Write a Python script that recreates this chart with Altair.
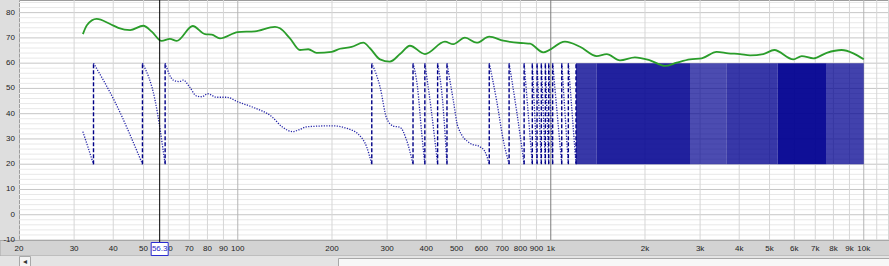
import altair as alt
import pandas as pd

# ---------------- data ----------------
spl_freq = [32, 33.0, 35.4, 39.1, 41.5, 45.3, 49.9, 53.1, 57.1, 60.7, 63.8, 71.8, 78.6, 82.6, 87.7,
            100, 113.5, 131.5, 136.4, 146.8, 158, 168, 178.6, 199.6, 212, 231, 251.8, 264.5, 284.7,
            306, 329.8, 354.9, 396.4, 459, 488, 532, 580, 636, 705, 817, 858, 946, 1110, 1240,
            1402, 1509, 1664, 1858, 2075, 2317, 2525, 2785, 3035, 3390, 3691, 4024, 4333, 4776,
            5177, 5956, 6336, 6902, 7614, 8497, 9262, 10000]
spl_db = [71.5, 75.1, 77.5, 75.5, 74.0, 73.1, 74.8, 72.5, 68.8, 69.6, 68.8, 74.7, 71.5, 71.3, 69.8,
          72.3, 72.6, 74.4, 73.8, 69.8, 65.2, 65.5, 64.1, 64.5, 65.7, 66.4, 68.1, 65.9, 61.5,
          60.6, 63.6, 66.9, 63.6, 68.5, 67.5, 70.1, 68.1, 70.5, 68.9, 67.9, 67.7, 64.3, 68.5, 66.5,
          62.8, 63.6, 61.1, 62.3, 61.1, 58.9, 60.2, 61.5, 61.9, 64.5, 63.9, 63.6, 63.1, 63.6,
          65.2, 61.5, 62.8, 61.9, 64.1, 65.2, 63.9, 61.5]

# wrapped phase trace (plotted on the 20..60 band), one list entry per point, with segment id
phase_freq = [32, 34.6,
              34.6, 40.5, 49.6,
              49.6, 54.4, 58.6,
              58.6, 62.2, 65.1, 66.9, 70.3, 73.8, 76.8, 80.2, 85.5, 92.3, 100, 112, 128.5, 138.6,
              149.5, 158, 166, 200, 223, 244, 258, 268,
              268, 284.7, 299, 314, 330, 346, 363,
              363, 375, 387, 396,
              396, 415, 435,
              435, 451, 466,
              466, 488, 505, 552, 594, 616, 636,
              636, 671, 705, 736,
              736, 777, 822,
              822, 873, 873, 904, 904, 933, 933, 961, 961, 985, 985, 1014,
              1014, 1084, 1084, 1138, 1138, 1204]
phase_val = [32.9, 20,
             60, 44.7, 20,
             60, 45.4, 20,
             60, 53.3, 52.7, 53.3, 50.4, 47.0, 46.7, 47.9, 46.5, 46.5, 44.7, 42.5, 38.8, 34.8,
             32.9, 33.8, 34.8, 35.2, 34.2, 31.6, 26.9, 20,
             60, 50.7, 38.2, 35.1, 34.6, 29.6, 20,
             60, 50.7, 32.2, 20,
             60, 41.5, 20,
             60, 45.4, 20,
             60, 45.4, 34.8, 28.3, 26.9, 25.0, 20,
             60, 45.4, 29.6, 20,
             60, 41.5, 20,
             60, 20, 60, 20, 60, 20, 60, 20, 60, 20, 60, 20,
             60, 20, 60, 20, 60, 20]
phase_seg = [0, 0,
             1, 1, 1,
             2, 2, 2,
             3, 3, 3, 3, 3, 3, 3, 3, 3, 3, 3, 3, 3, 3, 3, 3, 3, 3, 3, 3, 3, 3,
             4, 4, 4, 4, 4, 4, 4,
             5, 5, 5, 5,
             6, 6, 6,
             7, 7, 7,
             8, 8, 8, 8, 8, 8, 8,
             9, 9, 9, 9,
             10, 10, 10,
             11, 11, 12, 12, 13, 13, 14, 14, 15, 15, 16, 16,
             17, 17, 18, 18, 19, 19]
wrap_freq = [34.6, 49.6, 58.6, 268, 363, 396, 435, 466, 636, 736, 822, 873, 904, 933, 961,
             985, 1014, 1084, 1138, 1204]

# dense wrap region above ~1.2 kHz, drawn as bands of differing density
band_start = [1204, 1402, 2785, 3650, 5300, 7614]
band_end = [1402, 2785, 3650, 5300, 7614, 10000]
band_density = [0.78, 0.87, 0.7, 0.78, 0.94, 0.74]
phase_top = 60
phase_bottom = 20

cursor_freq = [56.3]
cursor_text = ["56.3"]

xtick_freq = [20, 30, 40, 50, 60, 70, 80, 90, 100, 200, 300, 400, 500, 600, 700, 800, 900,
              1000, 2000, 3000, 4000, 5000, 6000, 7000, 8000, 9000, 10000]
xtick_text = ["20", "30", "40", "50", "60", "70", "80", "90", "100", "200", "300", "400", "500",
              "600", "700", "800", "900", "1k", "2k", "3k", "4k", "5k", "6k", "7k", "8k", "9k", "10k"]
ytick_vals = [-10, 0, 10, 20, 30, 40, 50, 60, 70, 80]
ytick_text = ["-10", "0", "10", "20", "30", "40", "50", "60", "70", "80"]

grid_x_minor = [30, 40, 50, 60, 70, 80, 90, 200, 300, 400, 500, 600, 700, 800, 900,
                2000, 3000, 4000, 5000, 6000, 7000, 8000, 9000, 11000, 12000]
grid_x_mid = [100, 10000]
grid_x_major = [1000]
grid_y_minor = [v for v in range(-8, 86, 2) if v % 10 != 0]
grid_y_major = ytick_vals

# ---------------- chart ----------------
FONT = "Liberation Sans"
xs = alt.Scale(type="log", domain=[20, 12040], nice=False)
ys = alt.Scale(domain=[-10, 85], nice=False, zero=False)


def X(f="f:Q"):
    return alt.X(f, scale=xs, axis=None)


def Y(f="v:Q"):
    return alt.Y(f, scale=ys, axis=None)


one = pd.DataFrame({"a": [0]})

gy_minor = alt.Chart(pd.DataFrame({"v": grid_y_minor})).mark_rule(
    color="#e8e8e8", strokeWidth=1).encode(y=Y())
gy_major = alt.Chart(pd.DataFrame({"v": grid_y_major})).mark_rule(
    color="#c6c6c6", strokeWidth=1).encode(y=Y())
gx_minor = alt.Chart(pd.DataFrame({"f": grid_x_minor})).mark_rule(
    color="#d6d6d6", strokeWidth=1).encode(x=X())
gx_mid = alt.Chart(pd.DataFrame({"f": grid_x_mid})).mark_rule(
    color="#b4b4b4", strokeWidth=1).encode(x=X())
gx_major = alt.Chart(pd.DataFrame({"f": grid_x_major})).mark_rule(
    color="#7c7c7c", strokeWidth=1).encode(x=X())

bands = alt.Chart(pd.DataFrame({"f": band_start, "f2": band_end, "d": band_density,
                                "lo": [phase_bottom] * len(band_start),
                                "hi": [phase_top] * len(band_start)})).mark_rect(
    color="#000090").encode(x=X(), x2="f2:Q", y=Y("lo:Q"), y2="hi:Q",
                            opacity=alt.Opacity("d:Q", scale=None))

phase = alt.Chart(pd.DataFrame({"f": phase_freq, "v": phase_val, "s": phase_seg})).mark_line(
    color="#2424a8", strokeWidth=1.3, strokeDash=[1.2, 1.4], interpolate="monotone").encode(
    x=X(), y=Y(), detail="s:N", order=alt.Order("f:Q"))

wraps = alt.Chart(pd.DataFrame({"f": wrap_freq, "lo": [phase_bottom] * len(wrap_freq),
                                "hi": [phase_top] * len(wrap_freq)})).mark_rule(
    color="#000088", strokeWidth=1.4, strokeDash=[4, 2]).encode(x=X(), y=Y("lo:Q"), y2="hi:Q")

spl = alt.Chart(pd.DataFrame({"f": spl_freq, "v": spl_db})).mark_line(
    color="#2a9d2a", strokeWidth=1.8, interpolate="monotone").encode(x=X(), y=Y())

# bottom axis strip and scrollbar (window chrome)
strip = alt.Chart(one).mark_rect(fill="#d3d3d3", stroke="#a8a8a8", strokeWidth=1).encode(
    x=alt.value(-19), x2=alt.value(871), y=alt.value(240.5), y2=alt.value(256))
scroll_track = alt.Chart(one).mark_rect(fill="#e4e4e4").encode(
    x=alt.value(-19), x2=alt.value(871), y=alt.value(256), y2=alt.value(267))
scroll_thumb = alt.Chart(one).mark_rect(fill="#f7f7f7", stroke="#a8a8a8", strokeWidth=1).encode(
    x=alt.value(319.5), x2=alt.value(872), y=alt.value(258.5), y2=alt.value(268))
scroll_btn = alt.Chart(one).mark_rect(fill="#f4f4f4", stroke="#a8a8a8", strokeWidth=1).encode(
    x=alt.value(0.5), x2=alt.value(11.5), y=alt.value(256.5), y2=alt.value(268))
scroll_arrow = alt.Chart(one).mark_text(text="◂", fontSize=8, color="#333333").encode(
    x=alt.value(6), y=alt.value(262))

xlabels = alt.Chart(pd.DataFrame({"f": xtick_freq, "t": xtick_text})).mark_text(
    fontSize=8, font=FONT, color="#222222", baseline="middle").encode(
    x=X(), y=alt.value(248.5), text="t:N")
ylabels = alt.Chart(pd.DataFrame({"v": ytick_vals, "t": ytick_text})).mark_text(
    fontSize=8, font=FONT, color="#222222", baseline="middle", align="right").encode(
    x=alt.value(-4), y=Y(), text="t:N")

cursor = alt.Chart(pd.DataFrame({"f": cursor_freq})).mark_rule(
    color="#000000", strokeWidth=1).encode(x=X(), y=alt.value(0), y2=alt.value(243))
cursor_box = alt.Chart(pd.DataFrame({"f": cursor_freq})).mark_rect(
    width=17, fill="#ffffff", stroke="#2b2bd0", strokeWidth=1).encode(
    x=X(), y=alt.value(242.5), y2=alt.value(255.5))
cursor_lbl = alt.Chart(pd.DataFrame({"f": cursor_freq, "t": cursor_text})).mark_text(
    fontSize=8, font=FONT, color="#2323c8", baseline="middle").encode(
    x=X(), y=alt.value(249), text="t:N")

chart = alt.layer(
    gy_minor, gy_major, gx_minor, gx_mid, gx_major,
    bands, phase, wraps, spl,
    strip, scroll_track, scroll_thumb, scroll_btn, scroll_arrow,
    xlabels, ylabels, cursor, cursor_box, cursor_lbl,
).properties(
    width=870, height=240,
    autosize=alt.AutoSizeParams(type="none"),
    padding={"left": 19, "top": 0, "right": 0, "bottom": 26},
    background="#dedede",
).configure_view(
    fill="#ffffff", stroke="#9c9c9c", strokeWidth=1,
)

chart.save("out.html", embed_options={"renderer": "svg", "actions": False})
